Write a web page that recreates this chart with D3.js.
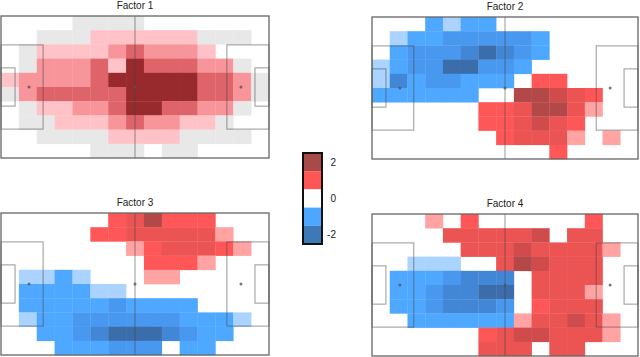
<!DOCTYPE html>
<html>
<head>
<meta charset="utf-8">
<script src="https://cdn.jsdelivr.net/npm/d3@7"></script>
<style>
  body { margin: 0; background: #fff; }
  svg { display: block; font-family: "Liberation Sans", Arial, sans-serif; }
</style>
</head>
<body>
<svg id="chart" width="640" height="357"></svg>
<script>
// cell values, 10 rows (top to bottom) x 15 columns (left to right), 0 = empty
const factor1 = [
  [0, 0, 0, 0, 0.15, 0.15, 0.15, 0.15, 0, 0, 0, 0, 0, 0, 0],
  [0, 0, 0.15, 0.15, 0.15, 0.45, 0.45, 0.45, 0.45, 0.45, 0.45, 0.15, 0.15, 0.15, 0],
  [0, 0.15, 0.45, 0.45, 0.45, 0.45, 0.95, 1.2, 0.95, 0.95, 0.95, 0.45, 0, 0, 0],
  [0, 0.15, 0.95, 0.95, 0.95, 1.2, 0.45, 2.3, 1.2, 1.2, 1.2, 0.95, 0.95, 0.15, 0],
  [0.45, 0.95, 0.95, 0.95, 0.95, 1.2, 2.3, 2.3, 2.3, 2.3, 2.3, 1.2, 1.2, 0.95, 0.15],
  [0.15, 0.95, 1.2, 1.2, 1.2, 1.2, 1.2, 2.3, 2.3, 2.3, 2.3, 1.2, 1.2, 0.95, 0.15],
  [0, 0.15, 0.45, 0.45, 0.95, 0.95, 1.2, 2.3, 2.3, 1.2, 1.2, 0.95, 0.95, 0.15, 0],
  [0, 0.15, 0.15, 0.45, 0.45, 0.45, 0.95, 1.2, 0.95, 0.95, 0.45, 0.45, 0.15, 0, 0],
  [0, 0, 0.15, 0.15, 0.15, 0.15, 0.45, 0.45, 0.45, 0.45, 0.15, 0.15, 0.15, 0.15, 0],
  [0, 0, 0, 0, 0, 0.15, 0.15, 0.15, 0, 0.15, 0.15, 0, 0, 0, 0]
];
const factor2 = [
  [0, 0, 0, -1.0, -0.5, -1.0, -1.0, 0, 0, 0, 0, 0, 0, 0, 0],
  [0, -0.5, -1.0, -1.0, -1.3, -1.3, -1.3, -1.3, -1.3, -1.0, 0, 0, 0, 0, 0],
  [0, -1.0, -1.3, -1.3, -1.3, -1.6, -2.0, -1.6, -1.3, -1.0, 0, 0, 0, 0, 0],
  [-0.5, -1.0, -1.3, -1.3, -2.0, -2.0, -1.3, -1.3, -1.0, 0, 0, 0, 0, 0, 0],
  [-0.5, -1.6, -1.0, -1.3, -1.3, -1.0, -1.0, -1.0, 0, 1.5, 1.5, 0, 0, 0, 0],
  [-1.0, -1.0, -1.0, -1.0, -1.0, -1.0, 0, 0, 2.0, 2.0, 1.85, 1.7, 1.5, 0, 0],
  [0, 0, 0, 0, 0, 0, 1.5, 1.5, 1.7, 2.0, 2.0, 1.7, 0.7, 0, 0],
  [0, 0, 0, 0, 0, 0, 1.5, 1.5, 1.7, 1.85, 1.7, 1.5, 0, 0, 0],
  [0, 0, 0, 0, 0, 0, 0, 1.5, 1.7, 1.7, 1.7, 0.7, 0, 0.7, 0],
  [0, 0, 0, 0, 0, 0, 0, 0, 0, 0, 1.5, 0, 0, 0, 0]
];
const factor3 = [
  [0, 0, 0, 0, 0, 0, 1.5, 1.7, 2.0, 1.5, 1.5, 1.5, 0, 0, 0],
  [0, 0, 0, 0, 0, 1.5, 1.5, 1.7, 1.7, 1.7, 1.7, 1.7, 0.7, 0, 0],
  [0, 0, 0, 0, 0, 0, 0, 0.7, 1.5, 1.7, 1.7, 1.7, 1.5, 0.7, 0],
  [0, 0, 0, 0, 0, 0, 0, 0, 1.5, 1.5, 1.5, 0.7, 0, 0, 0],
  [0, -0.5, -0.5, -1.0, -0.5, 0, 0, 0, 0.7, 0.7, 0, 0, 0, 0, 0],
  [0, -1.0, -1.0, -1.0, -1.0, -0.5, -0.5, 0, 0, 0, 0, 0, 0, 0, 0],
  [0, -1.0, -1.0, -1.0, -1.0, -1.0, -1.3, -1.0, -1.0, -1.0, -1.0, 0, 0, 0, 0],
  [0, -0.5, -1.0, -1.0, -1.3, -1.3, -1.3, -1.3, -1.3, -1.3, -1.0, -1.0, -1.0, -0.5, 0],
  [0, 0, -1.0, -1.0, -1.3, -1.6, -2.0, -2.0, -2.0, -1.6, -1.3, -1.0, -1.0, 0, 0],
  [0, 0, 0, -1.0, -1.0, -1.0, -1.3, -1.3, -1.3, 0, -1.0, -1.0, 0, 0, 0]
];
const factor4 = [
  [0, 0, 0, 0.7, 0, 1.5, 0, 0, 0, 0, 0, 0, 1.5, 0, 0],
  [0, 0, 0, 0, 1.7, 1.7, 1.7, 1.7, 1.7, 1.85, 0, 1.7, 1.7, 0, 0],
  [0, 0, 0, 0, 0, 1.7, 1.7, 1.7, 1.85, 1.7, 1.7, 1.7, 1.7, 0.7, 0],
  [0, 0, -0.5, -0.5, -0.5, 0, 0, 1.7, 2.0, 1.85, 1.7, 1.7, 1.7, 0, 0],
  [0, -1.0, -1.0, -1.0, -1.3, -1.6, -1.6, -1.6, 0, 1.7, 1.7, 1.7, 1.7, 0, 0],
  [0, -1.0, -1.0, -1.3, -1.6, -1.6, -2.0, -2.0, 0, 1.7, 1.7, 1.7, 0.7, 0, 0],
  [0, -1.0, -1.0, -1.3, -1.6, -1.6, -1.6, -1.3, 0, 1.5, 1.7, 1.7, 1.7, 0, 0],
  [0, 0, -1.0, -1.0, -1.0, -1.0, -1.0, -1.0, 0.7, 1.7, 1.7, 1.85, 1.7, 0.7, 0],
  [0, 0, 0, 0, 0, 0, 1.5, 1.7, 1.85, 1.85, 1.7, 1.7, 1.7, 0.7, 0],
  [0, 0, 0, 0, 0, 0, 1.7, 1.7, 1.7, 0, 1.7, 1.7, 0, 0, 0]
];
const titles = ['Factor 1', 'Factor 2', 'Factor 3', 'Factor 4'];
const legendSteps = [2, 1, 0, -1, -2];
const legendTicks = [2, 0, -2];

const panels = [
  { data: factor1, x: 1, y: 16, w: 268, h: 142 },
  { data: factor2, x: 372, y: 17, w: 266, h: 142 },
  { data: factor3, x: 1, y: 213, w: 268, h: 142 },
  { data: factor4, x: 372, y: 214, w: 266, h: 142 }
];

const cellColor = d3.scaleThreshold()
  .domain([-1.8, -1.45, -1.15, -0.75, -0.25, 0.3, 0.6, 0.8, 1.1, 1.35, 1.6, 1.8, 1.9, 2.15])
  .range(['#3b6dab', '#4287d6', '#4898f0', '#4fa8ff', '#aad3ff', '#e8e8e8', '#ffc2c6',
    '#ffa3a3', '#f7959b', '#df6469', '#ff5757', '#ec5353', '#d04c4c', '#b34848', '#982a2e']);

const legendColor = d3.scaleOrdinal()
  .domain(legendSteps)
  .range(['#a84a4a', '#ff5555', '#ffffff', '#4da6ff', '#3c79b6']);

const svg = d3.select('#chart');

function drawPitch(g, p, i) {
  const x = d3.scaleLinear().domain([0, 105]).range([p.x, p.x + p.w]);
  const y = d3.scaleLinear().domain([0, 68]).range([p.y, p.y + p.h]);
  const col = d3.scaleBand().domain(d3.range(15)).range([p.x, p.x + p.w]);
  const row = d3.scaleBand().domain(d3.range(10)).range([p.y, p.y + p.h]);

  const cells = [];
  p.data.forEach((r, ri) => r.forEach((v, ci) => { if (v !== 0) cells.push({ ri, ci, v }); }));

  g.append('g').selectAll('rect')
    .data(cells)
    .join('rect')
    .attr('x', d => col(d.ci))
    .attr('y', d => row(d.ri))
    .attr('width', col.bandwidth() + 0.3)
    .attr('height', row.bandwidth() + 0.3)
    .attr('fill', d => cellColor(d.v));

  // pitch markings
  const lines = g.append('g')
    .attr('fill', 'none')
    .attr('stroke', '#444')
    .attr('stroke-opacity', 0.55)
    .attr('stroke-width', 1);
  lines.append('line')
    .attr('x1', x(52.5)).attr('x2', x(52.5))
    .attr('y1', y(0)).attr('y2', y(68));
  [[16.5, 40.32], [5.5, 18.32]].forEach(([depth, width]) => {
    lines.append('rect')
      .attr('x', x(0)).attr('y', y(34 - width / 2))
      .attr('width', x(depth) - x(0)).attr('height', y(34 + width / 2) - y(34 - width / 2));
    lines.append('rect')
      .attr('x', x(105 - depth)).attr('y', y(34 - width / 2))
      .attr('width', x(105) - x(105 - depth)).attr('height', y(34 + width / 2) - y(34 - width / 2));
  });
  g.append('g').selectAll('circle')
    .data([11, 52.5, 94])
    .join('circle')
    .attr('cx', d => x(d))
    .attr('cy', y(34))
    .attr('r', 1.5)
    .attr('fill', '#555')
    .attr('fill-opacity', 0.8);

  g.append('rect')
    .attr('x', x(0)).attr('y', y(0))
    .attr('width', p.w).attr('height', p.h)
    .attr('fill', 'none')
    .attr('stroke', '#666')
    .attr('stroke-width', 1.3);

  g.append('text')
    .attr('x', x(52.5))
    .attr('y', p.y - 7)
    .attr('text-anchor', 'middle')
    .attr('font-size', 10)
    .attr('fill', '#222')
    .text(titles[i]);
}

panels.forEach((p, i) => drawPitch(svg.append('g'), p, i));

// colour bar
const legendY = d3.scaleLinear().domain([2.5, -2.5]).range([153, 244]);
const legend = svg.append('g');
legend.selectAll('rect.step')
  .data(legendSteps)
  .join('rect')
  .attr('class', 'step')
  .attr('x', 303)
  .attr('y', d => legendY(d + 0.5))
  .attr('width', 19)
  .attr('height', d => legendY(d - 0.5) - legendY(d + 0.5))
  .attr('fill', d => legendColor(d));
legend.append('rect')
  .attr('x', 303).attr('y', legendY(2.5))
  .attr('width', 19).attr('height', legendY(-2.5) - legendY(2.5))
  .attr('fill', 'none')
  .attr('stroke', '#111')
  .attr('stroke-width', 2);
legend.selectAll('text')
  .data(legendTicks)
  .join('text')
  .attr('x', 336)
  .attr('y', d => legendY(d) + 3.5)
  .attr('text-anchor', 'end')
  .attr('font-size', 10)
  .attr('fill', '#222')
  .text(d => d);
</script>
</body>
</html>
